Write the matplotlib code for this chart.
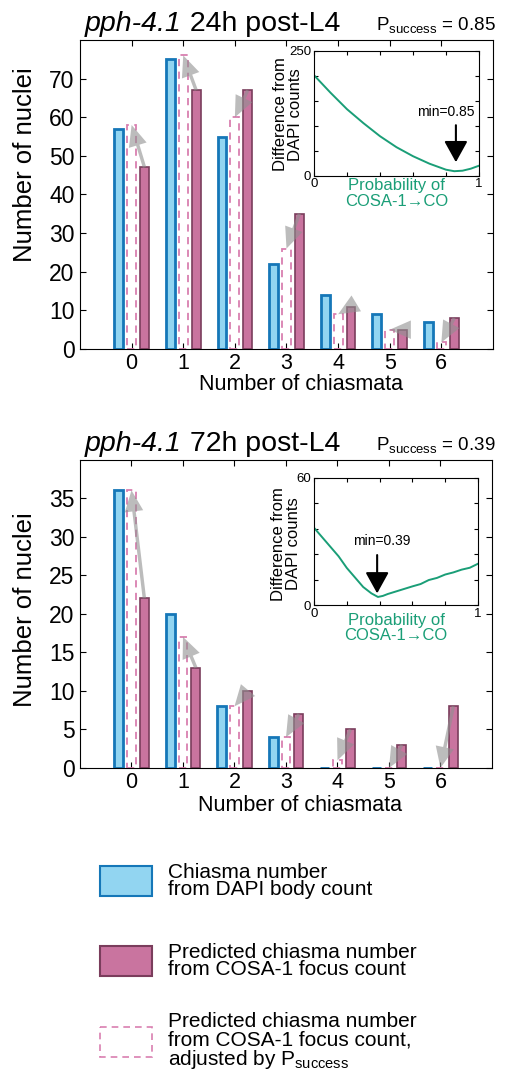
import matplotlib
matplotlib.use("Agg")
import matplotlib.pyplot as plt
from matplotlib.patches import Rectangle
import numpy as np

plt.rcParams['font.family'] = ['Liberation Sans', 'DejaVu Sans']
plt.rcParams['mathtext.fontset'] = 'custom'
plt.rcParams['mathtext.rm'] = 'Liberation Sans'
plt.rcParams['mathtext.it'] = 'Liberation Sans:italic'
plt.rcParams['mathtext.default'] = 'regular'

# ---------------- data ----------------
chiasmata = [0, 1, 2, 3, 4, 5, 6]

top_dapi = [57, 75, 55, 22, 14, 9, 7]
top_cosa = [47, 67, 67, 35, 11, 5, 8]
top_adj = [58, 76, 60, 26, 9, 5, 1.7]

bot_dapi = [36, 20, 8, 4, 0, 0, 0]
bot_cosa = [22, 13, 10, 7, 5, 3, 8]
bot_adj = [36, 17, 8, 4, 1, 0, 0]

top_p = [0, 0.1, 0.2, 0.3, 0.4, 0.5, 0.6, 0.7, 0.8, 0.85, 0.9, 0.95, 1.0]
top_diff = [201, 166, 133, 105, 79, 57, 39, 24, 12, 9, 10, 14, 20]

bot_p = [0, 0.05, 0.1, 0.15, 0.2, 0.25, 0.3, 0.35, 0.39, 0.42, 0.45, 0.5, 0.55,
         0.6, 0.65, 0.7, 0.75, 0.8, 0.85, 0.9, 0.95, 1.0]
bot_diff = [36.5, 32, 27.5, 23, 17.5, 13, 8.5, 5.5, 3.8, 4.3, 5.2, 6.4, 7.6,
            8.8, 9.9, 11.8, 12.8, 14.4, 15.4, 16.7, 17.6, 19.5]

top_title = ("pph-4.1", " 24h post-L4")
bot_title = ("pph-4.1", " 72h post-L4")
top_psucc = 0.85
bot_psucc = 0.39

legend_labels = ["Chiasma number\nfrom DAPI body count",
                 "Predicted chiasma number\nfrom COSA-1 focus count",
                 "Predicted chiasma number\nfrom COSA-1 focus count,\nadjusted by P$_{success}$"]

# ---------------- style ----------------
BLUE_F = '#92d5f1'
BLUE_E = '#1577b8'
PINK_F = '#c9749f'
PINK_E = '#7a3d5c'
DASH_E = '#d97fb0'
GREEN = '#1a9e77'
W, H = 506, 1075
fig = plt.figure(figsize=(W / 100, H / 100), dpi=100)


def rect(l, t, r, b):
    return [l / W, 1 - b / H, (r - l) / W, (b - t) / H]


def main_panel(box, dapi, cosa, adj, ymax, yticks, ylab_y, xlab_y):
    ax = fig.add_axes(box)
    x = np.array(chiasmata, dtype=float)
    bw = 0.17
    ax.bar(x - 0.25, dapi, bw, facecolor=BLUE_F, edgecolor=BLUE_E, lw=2, zorder=2)
    ax.bar(x, adj, bw, facecolor='none', edgecolor=DASH_E, lw=1.3, ls=(0, (4, 3)), zorder=2)
    ax.bar(x + 0.25, cosa, bw, facecolor=PINK_F, edgecolor=PINK_E, lw=1.2, zorder=2)
    for xi, c, a in zip(x, cosa, adj):
        ax.annotate('', xy=(xi, a), xytext=(xi + 0.25, c),
                    arrowprops=dict(arrowstyle='simple,head_length=0.8,head_width=0.7,tail_width=0.13',
                                    color='#909090', alpha=0.6, lw=0,
                                    shrinkA=0, shrinkB=0, mutation_scale=19),
                    zorder=3)
    ax.set_xlim(-1, 7)
    ax.set_ylim(0, ymax)
    ax.set_xticks(chiasmata)
    ax.set_xticklabels([str(c) for c in chiasmata])
    ax.set_yticks(yticks)
    ax.tick_params(direction='in', top=True, right=True, length=4, labelsize=16.5, pad=4)
    ax.tick_params(axis='x', pad=3, labelsize=15.5)
    ax.set_xlabel('Number of chiasmata', fontsize=15.5)
    ax.xaxis.set_label_coords(0.535, xlab_y)
    ax.set_ylabel('Number of nuclei', fontsize=18.5)
    ax.yaxis.set_label_coords(-0.105, ylab_y)
    return ax


def inset(box, p, d, ymax, pmin, txt_xy, arr_from, arr_to, xl_y, yl_x, yl_y):
    ax = fig.add_axes(box)
    ax.plot(p, d, color=GREEN, lw=1.4)
    ax.set_xlim(0, 1)
    ax.set_ylim(0, ymax)
    ax.set_xticks([0, 0.2, 0.4, 0.6, 0.8, 1.0])
    ax.set_xticklabels(['0', '', '', '', '', '1'])
    yt = np.linspace(0, ymax, 6)
    ax.set_yticks(yt)
    ax.set_yticklabels(['0', '', '', '', '', str(ymax)])
    ax.tick_params(direction='in', top=True, right=True, length=3, labelsize=9.5, pad=2)
    ax.set_xlabel('Probability of\nCOSA-1\u2192CO', color=GREEN, fontsize=12, linespacing=1.05)
    ax.xaxis.set_label_coords(0.5, xl_y)
    ax.set_ylabel('Difference from\nDAPI counts', fontsize=12, linespacing=1.0)
    ax.yaxis.set_label_coords(yl_x, yl_y)
    ax.text(txt_xy[0], txt_xy[1], 'min=%.2f' % pmin, fontsize=10, ha='center', va='center')
    ax.annotate('', xy=arr_to, xytext=arr_from,
                arrowprops=dict(arrowstyle='-|>,head_length=0.65,head_width=0.36',
                                color='black', lw=1.5, shrinkA=0, shrinkB=0,
                                mutation_scale=20))
    return ax


def title(y_base, parts, ps):
    t1 = fig.text(85 / W, 1 - y_base / H, parts[0], fontsize=20.5, style='italic',
                  ha='left', va='baseline')
    r = fig.canvas.get_renderer()
    bb = t1.get_window_extent(r)
    fig.text(bb.x1 / (W), 1 - y_base / H, parts[1], fontsize=20.5, ha='left', va='baseline')
    fig.text(496 / W, 1 - (y_base - 1) / H, r'P$_{\rm success}$ = %.2f' % ps, fontsize=13.5,
             ha='right', va='baseline')


main_panel(rect(80, 40, 493, 349), top_dapi, top_cosa, top_adj, 80,
           list(range(0, 71, 10)), 0.597, -0.08)
main_panel(rect(80, 459.5, 492, 768), bot_dapi, bot_cosa, bot_adj, 40,
           list(range(0, 36, 5)), 0.512, -0.087)

inset(rect(314, 50.7, 479, 175.7), top_p, top_diff, 250, top_psucc,
      (0.80, 127), (0.86, 101), (0.86, 27), -0.02, -0.065, 0.49)
inset(rect(314, 478, 478, 605), bot_p, bot_diff, 60, bot_psucc,
      (0.41, 30.2), (0.385, 23.6), (0.385, 5.5), -0.06, -0.08, 0.48)

title(31, top_title, top_psucc)
title(451, bot_title, bot_psucc)

# legend
lax = fig.add_axes([0, 0, 1, 1], zorder=-1)
lax.set_xlim(0, W)
lax.set_ylim(H, 0)
lax.axis('off')
styles = [dict(facecolor=BLUE_F, edgecolor=BLUE_E, lw=1.5),
          dict(facecolor=PINK_F, edgecolor=PINK_E, lw=1.5),
          dict(facecolor='white', edgecolor=DASH_E, lw=1.2, ls=(0, (4, 3)))]
tops = [866, 946, 1026.5]
for lab, st, tp in zip(legend_labels, styles, tops):
    lax.add_patch(Rectangle((100, tp), 52, 30, **st))
    lax.text(168, tp + 15, lab, fontsize=15, ha='left', va='center', linespacing=0.92)

fig.savefig('out.png', dpi=100)
